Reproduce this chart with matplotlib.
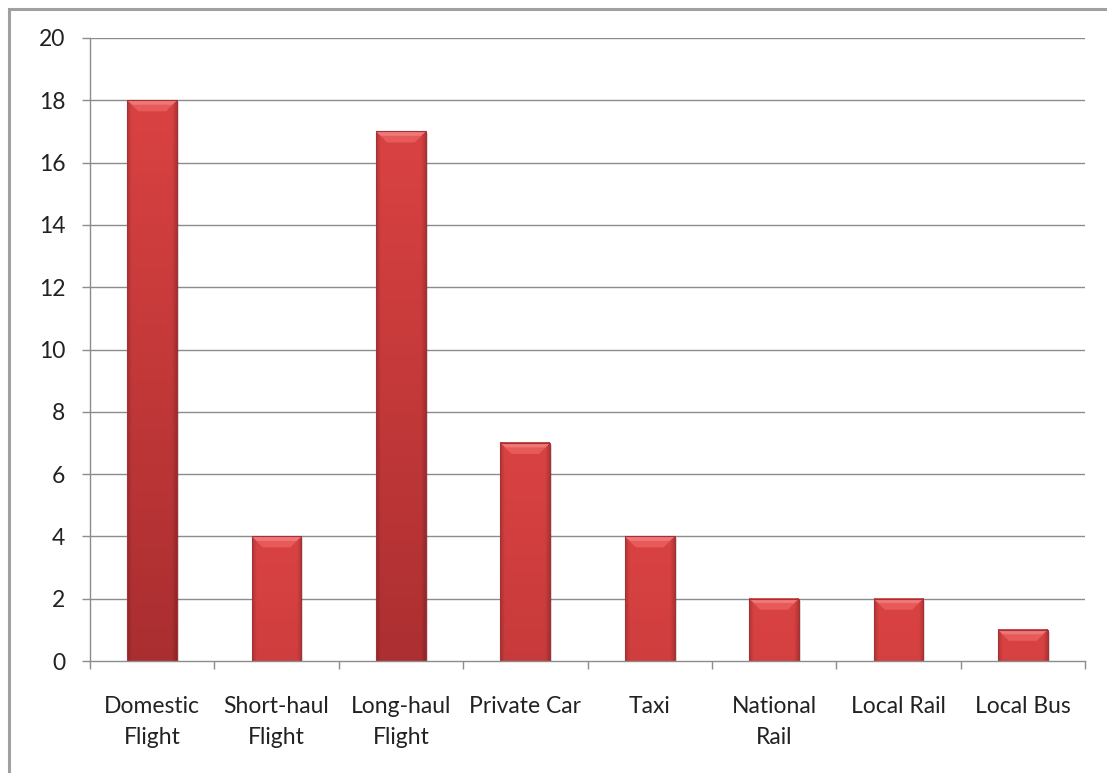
import matplotlib.pyplot as plt
import numpy as np
from matplotlib.patches import Polygon, Rectangle

categories = ["Domestic\nFlight", "Short-haul\nFlight", "Long-haul\nFlight",
              "Private Car", "Taxi", "National\nRail", "Local Rail", "Local Bus"]
values = [18, 4, 17, 7, 4, 2, 2, 1]
y_ticks = [0, 2, 4, 6, 8, 10, 12, 14, 16, 18, 20]

W, H = 1107, 773
plt.rcParams['font.family'] = ['Lato', 'DejaVu Sans']

fig = plt.figure(figsize=(W / 100, H / 100), dpi=100)
ax = fig.add_axes([90 / W, 1 - 661 / H, (1085 - 90) / W, (661 - 38) / H])

# chart frame around the whole figure
fig.patches.append(Rectangle((9 / W, -0.1), 1.2, 1 - 9 / H + 0.1,
                             transform=fig.transFigure, fill=False,
                             edgecolor='#a0a0a0', lw=2.2, zorder=0))

grey = '#8c8c8c'
for t in y_ticks[1:]:
    ax.axhline(t, color=grey, lw=1, zorder=0)

n = len(values)
x = np.arange(n)
bw = 0.4
ax.set_xlim(-0.5, n - 0.5)
ax.set_ylim(0, 20)

# pixel size in data units
px_x = n / (1085 - 90)
px_y = 20 / (661 - 38)

top_col = np.array([218, 66, 66]) / 255
bot_col = np.array([170, 46, 48]) / 255

for xi, v in zip(x, values):
    x0, x1 = xi - bw / 2, xi + bw / 2
    # soft shadow
    ax.add_patch(Rectangle((x0 + 2 * px_x, -2 * px_y), bw, v, facecolor='#000000',
                           alpha=0.12, lw=0, zorder=1))
    # body gradient: darker towards the bottom and towards the edges
    rows, cols = 100, 60
    tv = np.linspace(0, 1, rows)[:, None, None]
    img = top_col * (1 - tv * (v / 18)) + bot_col * (tv * (v / 18))
    img = np.repeat(img, cols, axis=1)
    u = np.linspace(-1, 1, cols)
    edge = 1 - 0.18 * np.clip((np.abs(u) - 0.82) / 0.18, 0, 1)
    img = np.clip(img * edge[None, :, None], 0, 1)
    ax.imshow(img, extent=[x0, x1, 0, v], aspect='auto', origin='upper',
              interpolation='bilinear', zorder=2)
    # bevelled top
    bev_w = 11 * px_x
    bev_h = 11 * px_y
    ax.add_patch(Polygon([(x0, v), (x1, v), (x1 - bev_w, v - bev_h), (x0 + bev_w, v - bev_h)],
                         closed=True, facecolor='#e65a5a', lw=0, zorder=3))
    ax.add_patch(Polygon([(x0, v), (x1, v), (x1 - bev_w * 0.45, v - bev_h * 0.4),
                          (x0 + bev_w * 0.45, v - bev_h * 0.4)],
                         closed=True, facecolor='#ef7777', lw=0, zorder=3))
    ax.add_patch(Rectangle((x0, 0), bw, v, fill=False, edgecolor='#a33236',
                           lw=0.8, zorder=4))

ax.set_xticks(x)
ax.set_xticklabels(categories, fontsize=16.5, color='#222222', linespacing=1.6)
ax.set_xticks(np.arange(n + 1) - 0.5, minor=True)
ax.tick_params(axis='x', which='major', length=0, pad=25)
ax.tick_params(axis='x', which='minor', length=8 * 0.72, color=grey, width=1)
ax.set_yticks(y_ticks)
ax.set_yticklabels([str(t) for t in y_ticks], fontsize=16.5, color='#222222')
ax.tick_params(axis='y', length=8 * 0.72, color=grey, width=1, pad=12)

for s in ['top', 'right']:
    ax.spines[s].set_visible(False)
for s in ['left', 'bottom']:
    ax.spines[s].set_color(grey)
    ax.spines[s].set_linewidth(1)
ax.spines['left'].set_zorder(5)
ax.spines['bottom'].set_zorder(5)

fig.savefig('out.png', dpi=100)
